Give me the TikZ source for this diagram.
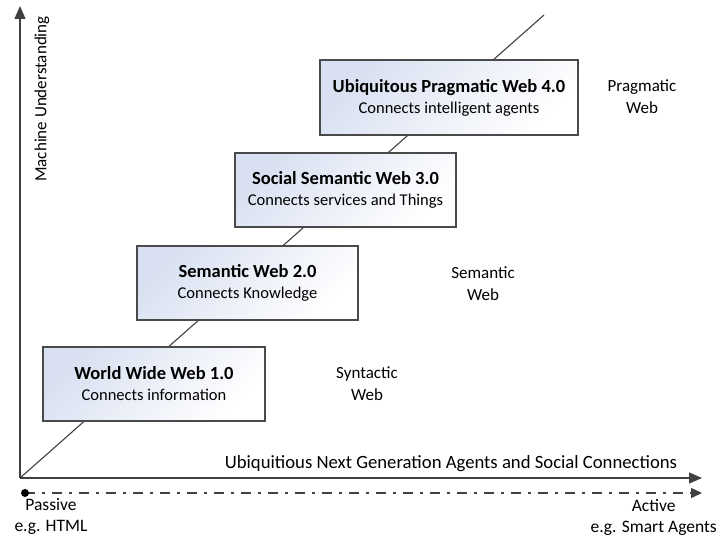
\documentclass[tikz,border=0pt]{standalone}
\usepackage{fontspec}
\setmainfont{Carlito}
\usetikzlibrary{arrows.meta}
\definecolor{boxblue}{HTML}{D8E0F1}
\definecolor{linegray}{HTML}{404040}
\definecolor{bordergray}{HTML}{4A4A4A}
\tikzset{
  webbox/.style={draw=bordergray, line width=1.2pt, rectangle,
    top color=boxblue, bottom color=white, shading angle=45,
    minimum height=74pt, align=center, inner sep=0pt,
    font=\fontsize{16.5}{21}\selectfont},
  lbl/.style={align=center, font=\fontsize{17}{22}\selectfont, inner sep=0pt},
  axisline/.style={draw=linegray, line width=1.3pt},
  tip/.style={-{Triangle[length=13pt,width=11pt]}},
}
\newcommand{\boxtext}[2]{{\fontsize{18.5}{21}\selectfont\bfseries #1}\\{\fontsize{16.5}{21}\selectfont #2}}
\begin{document}
\begin{tikzpicture}[x=1pt,y=-1pt]
\useasboundingbox (0,0) rectangle (717,540);
\coordinate (O) at (20,478);
\coordinate (ytop) at (20,6);
\coordinate (xend) at (702,478);
\coordinate (dstart) at (25,493);
\coordinate (dend) at (702,493);
\coordinate (dtip) at (544,15);
% axes
\draw[axisline, tip] (O) -- (ytop);
\draw[axisline, tip] (O) -- (xend);
\draw[axisline, line width=1.1pt] (O) -- (dtip);
\draw[-{Triangle[length=11pt,width=10pt]}, draw=linegray, line width=1.5pt, dash pattern=on 10pt off 7pt on 3pt off 7pt] (dstart) -- (dend);
\fill[black] (dstart) circle (4pt);
% boxes
\node[webbox, minimum width=222pt] (w1) at (154,384) {\boxtext{World Wide Web 1.0}{Connects information}};
\node[webbox, minimum width=221pt] (w2) at (247.5,283) {\boxtext{Semantic Web 2.0}{Connects Knowledge}};
\node[webbox, minimum width=221pt] (w3) at (345.5,190) {\boxtext{Social Semantic Web 3.0}{Connects services and Things}};
\node[webbox, minimum width=258pt, minimum height=75pt] (w4) at (449,97.5) {\boxtext{Ubiquitous Pragmatic Web 4.0}{Connects intelligent agents}};
% labels
\node[lbl] (syn) at (367,384) {Syntactic\\Web};
\node[lbl] (sem) at (483,284) {Semantic\\Web};
\node[lbl] (prag) at (642,97) {Pragmatic\\Web};
\node[lbl, rotate=90] (mu) at (42,99) {Machine Understanding};
\node[lbl, font=\fontsize{18.7}{22}\selectfont] (ubi) at (451,464) {Ubiquitious Next Generation Agents and Social Connections};
\node[lbl, font=\fontsize{17.5}{21}\selectfont] (pass) at (51,516) {Passive\\e.g. HTML};
\node[lbl, anchor=east, align=center, font=\fontsize{17.5}{21}\selectfont] (act) at (717,517) {Active\\e.g. Smart Agents};
\end{tikzpicture}
\end{document}
